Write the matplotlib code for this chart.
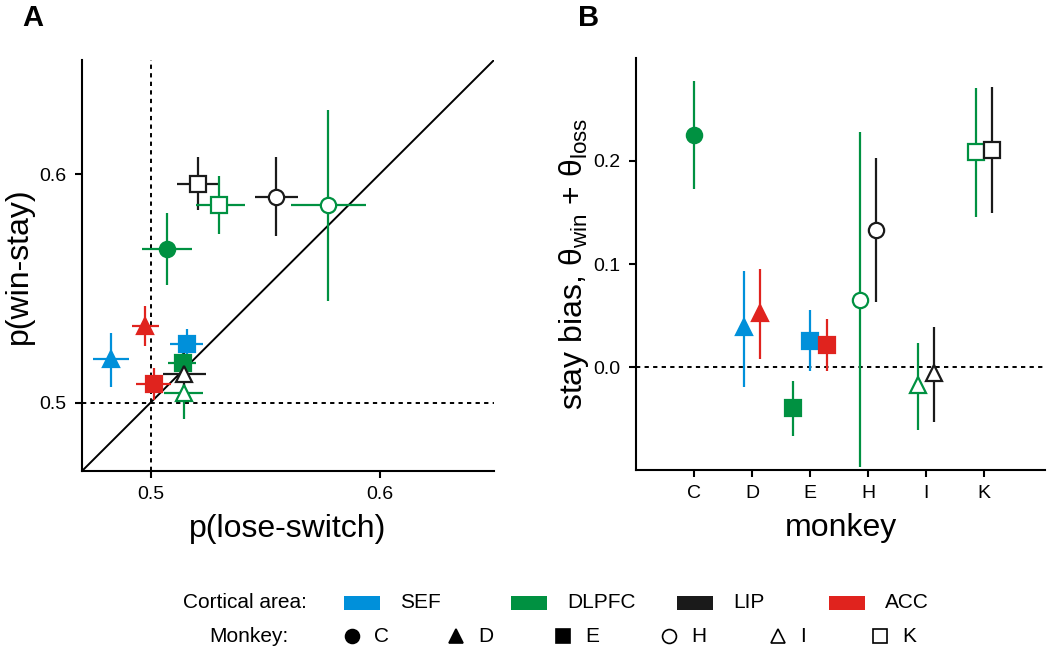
import numpy as np
import matplotlib
matplotlib.use('Agg')
from matplotlib import pyplot as plt
from matplotlib.patches import Rectangle

plt.rcParams['font.family'] = ['Liberation Sans', 'DejaVu Sans']
plt.rcParams['mathtext.fontset'] = 'custom'
plt.rcParams['mathtext.rm'] = 'Liberation Sans'
plt.rcParams['mathtext.it'] = 'Liberation Sans:italic'

area_colors = {'SEF': '#0090da', 'DLPFC': '#009141', 'LIP': '#1a1a1a', 'ACC': '#e0231e'}
area_names = ['SEF', 'DLPFC', 'LIP', 'ACC']
monkeys = ['C', 'D', 'E', 'H', 'I', 'K']
# marker shape, filled?
monkey_marker = {'C': ('o', True), 'D': ('^', True), 'E': ('s', True),
                 'H': ('o', False), 'I': ('^', False), 'K': ('s', False)}

# ---- panel A: p(lose-switch) vs p(win-stay)
a_area = ['LIP', 'DLPFC', 'LIP', 'DLPFC', 'DLPFC', 'ACC', 'SEF', 'SEF', 'DLPFC', 'DLPFC', 'LIP', 'ACC']
a_monkey = ['K', 'K', 'H', 'H', 'C', 'D', 'D', 'E', 'E', 'I', 'I', 'E']
a_x = [0.5205, 0.530, 0.5546, 0.5775, 0.507, 0.4974, 0.4825, 0.5157, 0.514, 0.5144, 0.5144, 0.5013]
a_x_lo = [0.5114, 0.5197, 0.5454, 0.5611, 0.496, 0.4917, 0.475, 0.5083, 0.5074, 0.506, 0.5052, 0.4934]
a_x_hi = [0.5293, 0.541, 0.5642, 0.5939, 0.518, 0.5035, 0.4904, 0.5227, 0.520, 0.5227, 0.524, 0.5087]
a_y = [0.5956, 0.5865, 0.590, 0.5865, 0.5672, 0.5336, 0.519, 0.5258, 0.5175, 0.504, 0.5127, 0.5083]
a_y_lo = [0.5843, 0.5738, 0.5729, 0.5445, 0.5515, 0.5249, 0.507, 0.519, 0.512, 0.4926, 0.5035, 0.5009]
a_y_hi = [0.6074, 0.599, 0.6074, 0.628, 0.583, 0.5424, 0.5306, 0.5323, 0.523, 0.508, 0.5218, 0.5153]

# ---- panel B: stay bias per monkey
b_monkey = ['C', 'D', 'D', 'E', 'E', 'E', 'H', 'H', 'I', 'I', 'K', 'K']
b_area = ['DLPFC', 'SEF', 'ACC', 'DLPFC', 'SEF', 'ACC', 'DLPFC', 'LIP', 'DLPFC', 'LIP', 'DLPFC', 'LIP']
b_y = [0.225, 0.039, 0.052, -0.040, 0.025, 0.021, 0.065, 0.133, -0.017, -0.006, 0.209, 0.211]
b_lo = [0.173, -0.019, 0.008, -0.067, -0.004, -0.004, -0.097, 0.063, -0.061, -0.053, 0.146, 0.150]
b_hi = [0.278, 0.093, 0.095, -0.014, 0.055, 0.047, 0.228, 0.203, 0.023, 0.039, 0.271, 0.272]


def style(monkey, area):
    m, filled = monkey_marker[monkey]
    c = area_colors[area]
    ms = 11.5 if m == 's' else 11
    return dict(marker=m, ms=ms, mfc=c if filled else 'white', mec=c,
                mew=1.6, color=c, elinewidth=1.6, capsize=0)


fig = plt.figure(figsize=(10.5, 6.53), dpi=100)

# panel A
ax = fig.add_axes([0.0781, 0.2787, 0.3924, 0.6294])
ax.plot([0.47, 0.65], [0.47, 0.65], color='black', lw=1.4, zorder=1)
ax.axvline(0.5, color='black', lw=1.4, ls=(0, (2.2, 2.2)), zorder=1)
ax.axhline(0.5, color='black', lw=1.4, ls=(0, (2.2, 2.2)), zorder=1)
for i in range(len(a_x)):
    ax.errorbar(a_x[i], a_y[i],
                xerr=[[a_x[i] - a_x_lo[i]], [a_x_hi[i] - a_x[i]]],
                yerr=[[a_y[i] - a_y_lo[i]], [a_y_hi[i] - a_y[i]]],
                zorder=3, **style(a_monkey[i], a_area[i]))
ax.set_xlim(0.47, 0.65)
ax.set_ylim(0.47, 0.65)
ax.set_xticks([0.5, 0.6])
ax.set_yticks([0.5, 0.6])
ax.set_xticklabels(['0.5', '0.6'])
ax.set_yticklabels(['0.5', '0.6'])
ax.set_xlabel('p(lose-switch)', fontsize=23, labelpad=8)
ax.set_ylabel('p(win-stay)', fontsize=23, labelpad=4)

# panel B
bx = fig.add_axes([0.6057, 0.2802, 0.3895, 0.631])
bx.axhline(0.0, color='black', lw=1.4, ls=(0, (2.2, 2.2)), zorder=1)
for mi, mk in enumerate(monkeys):
    idx = [j for j in range(len(b_monkey)) if b_monkey[j] == mk]
    n = len(idx)
    for k, j in enumerate(idx):
        xpos = mi + 1 + (k - (n - 1) / 2) * 0.29
        bx.errorbar(xpos, b_y[j], yerr=[[b_y[j] - b_lo[j]], [b_hi[j] - b_y[j]]],
                    zorder=3, **style(mk, b_area[j]))
bx.set_xlim(0, 7.05)
bx.set_ylim(-0.1, 0.3)
bx.set_xticks(range(1, 7))
bx.set_xticklabels(monkeys)
bx.set_yticks([0.0, 0.1, 0.2])
bx.set_yticklabels(['0.0', '0.1', '0.2'])
bx.set_xlabel('monkey', fontsize=23, labelpad=8)
bx.set_ylabel(r'stay bias, θ$_{\mathrm{win}}$ + θ$_{\mathrm{loss}}$', fontsize=23, labelpad=2)

for a in (ax, bx):
    for s in ('top', 'right'):
        a.spines[s].set_visible(False)
    for s in ('left', 'bottom'):
        a.spines[s].set_linewidth(1.5)
    a.tick_params(axis='both', direction='out', length=5, width=1.5, labelsize=14, pad=6)

fig.text(22 / 1050, 1 - 26 / 653, 'A', fontsize=21, fontweight='bold')
fig.text(578 / 1050, 1 - 26 / 653, 'B', fontsize=21, fontweight='bold')

# legend rows drawn in pixel space
lg = fig.add_axes([0, 0, 1, 1], zorder=-1)
lg.set_xlim(0, 1050)
lg.set_ylim(653, 0)
lg.axis('off')
row1, row2 = 603, 636
lg.text(183, row1, 'Cortical area:', fontsize=15, va='center')
patch_x = [344, 511, 677, 829]
for px, name in zip(patch_x, area_names):
    lg.add_patch(Rectangle((px, row1 - 7), 36, 14, color=area_colors[name], lw=0))
    lg.text(px + 56, row1, name, fontsize=15, va='center')
lg.text(209, row2, 'Monkey:', fontsize=15, va='center')
mk_x = [352, 456, 563, 669, 778, 880]
for px, mk in zip(mk_x, monkeys):
    m, filled = monkey_marker[mk]
    lg.plot(px, row2, marker=m, ms=10, mfc='black' if filled else 'white',
            mec='black', mew=1.2, ls='none')
    lg.text(px + 22, row2, mk, fontsize=15, va='center')

fig.savefig('out.png', dpi=100)
